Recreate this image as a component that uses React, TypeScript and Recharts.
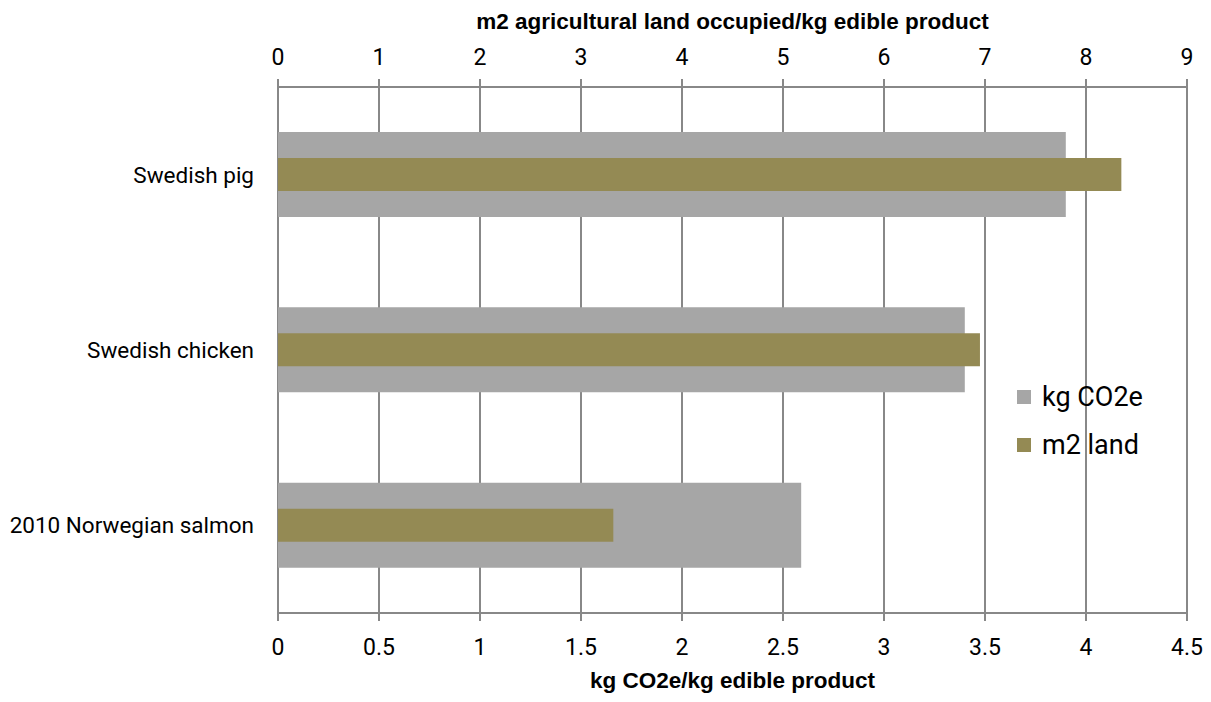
import {
  BarChart,
  Bar,
  XAxis,
  YAxis,
  CartesianGrid,
  Legend,
} from "recharts";

const categories = ["Swedish pig", "Swedish chicken", "2010 Norwegian salmon"];
const co2Values = [3.9, 3.4, 2.59];
const landValues = [8.35, 6.95, 3.32];
const co2Ticks = [0, 0.5, 1, 1.5, 2, 2.5, 3, 3.5, 4, 4.5];
const landTicks = [0, 1, 2, 3, 4, 5, 6, 7, 8, 9];
const boundTicks = [0, 1, 2, 3];

const data = categories.map((name, i) => ({
  name,
  co2: co2Values[i],
  land: landValues[i],
}));

const FONT = "Roboto, sans-serif";
const TITLE_FONT = "'Liberation Sans', Arial, sans-serif";
const AXIS = "#888888";
const GRAY = "#A6A6A6";
const OLIVE = "#948A54";

function renderLegend(props: any) {
  const items = props.payload || [];
  return (
    <div style={{ fontFamily: FONT, fontSize: 27, color: "#000" }}>
      {items.map((it: any) => (
        <div
          key={it.value}
          style={{ display: "flex", alignItems: "center", height: 48 }}
        >
          <span
            style={{
              display: "inline-block",
              width: 14,
              height: 14,
              background: it.color,
              marginRight: 11,
            }}
          />
          {it.value}
        </div>
      ))}
    </div>
  );
}

export default function App() {
  return (
    <BarChart
      width={1195}
      height={686}
      data={data}
      layout="vertical"
      margin={{ top: 0, right: 16, bottom: 0, left: 0 }}
    >
      <CartesianGrid
        xAxisId="co2"
        yAxisId="a"
        horizontal={false}
        stroke={AXIS}
        strokeWidth={2}
      />
      <XAxis
        xAxisId="land"
        type="number"
        orientation="top"
        domain={[0, 9]}
        ticks={landTicks}
        height={79}
        tickSize={8}
        tickMargin={14}
        axisLine={{ stroke: AXIS, strokeWidth: 2 }}
        tickLine={{ stroke: AXIS, strokeWidth: 2 }}
        tick={{ fill: "#000", fontSize: 23, fontFamily: FONT }}
        label={{
          value: "m2 agricultural land occupied/kg edible product",
          position: "insideTop",
          offset: 5,
          fill: "#000",
          fontSize: 22.5,
          fontWeight: "bold",
          fontFamily: TITLE_FONT,
        }}
      />
      <XAxis
        xAxisId="co2"
        type="number"
        orientation="bottom"
        domain={[0, 4.5]}
        ticks={co2Ticks}
        height={81}
        tickSize={8}
        tickMargin={18}
        axisLine={{ stroke: AXIS, strokeWidth: 2 }}
        tickLine={{ stroke: AXIS, strokeWidth: 2 }}
        tick={{ fill: "#000", fontSize: 23, fontFamily: FONT }}
        label={{
          value: "kg CO2e/kg edible product",
          position: "insideBottom",
          offset: 6,
          fill: "#000",
          fontSize: 22.5,
          fontWeight: "bold",
          fontFamily: TITLE_FONT,
        }}
      />
      <YAxis
        yAxisId="bounds"
        type="number"
        domain={[0, categories.length]}
        ticks={boundTicks}
        width={1}
        tickSize={8}
        axisLine={{ stroke: AXIS, strokeWidth: 2 }}
        tickLine={{ stroke: AXIS, strokeWidth: 2 }}
        tick={() => <g />}
      />
      <YAxis
        yAxisId="a"
        type="category"
        dataKey="name"
        width={269}
        tickSize={0}
        tickMargin={24}
        axisLine={false}
        tickLine={false}
        tick={{ fill: "#000", fontSize: 22.5, fontFamily: FONT }}
      />
      <YAxis yAxisId="b" type="category" dataKey="name" hide />
      <Legend
        layout="vertical"
        align="center"
        verticalAlign="middle"
        content={renderLegend}
        wrapperStyle={{ left: 1009, top: 365, width: "auto" }}
      />
      <Bar
        name="kg CO2e"
        dataKey="co2"
        xAxisId="co2"
        yAxisId="a"
        fill={GRAY}
        barSize={85}
        isAnimationActive={false}
      />
      <Bar
        name="m2 land"
        dataKey="land"
        xAxisId="land"
        yAxisId="b"
        fill={OLIVE}
        barSize={33}
        isAnimationActive={false}
      />
    </BarChart>
  );
}
